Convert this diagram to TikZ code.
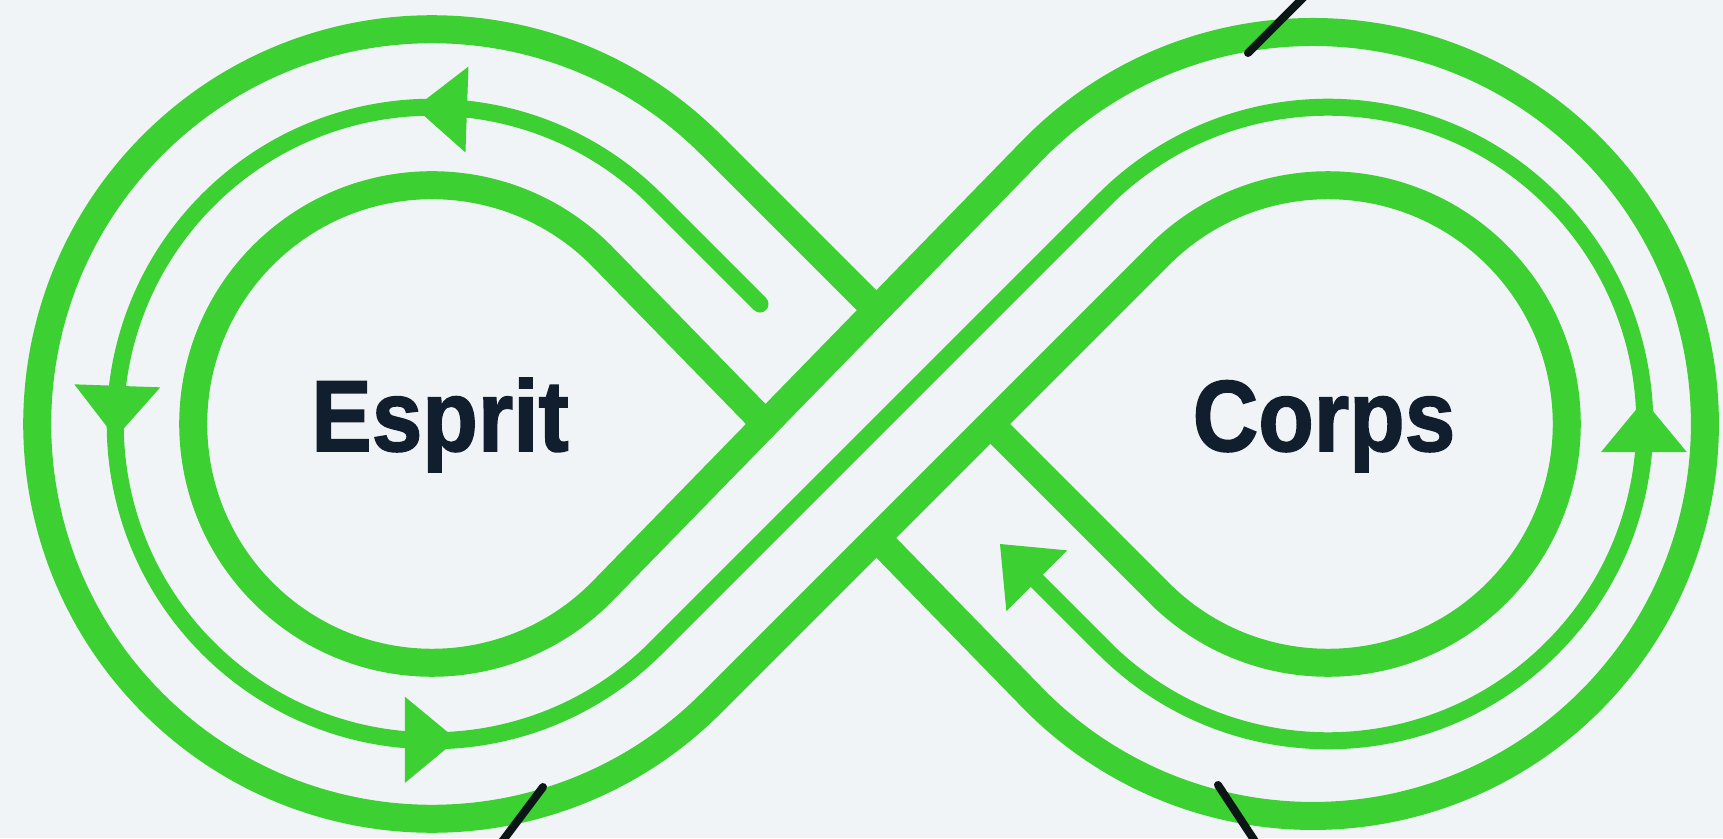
\documentclass[tikz,border=0pt]{standalone}
\usepackage{graphicx}
\usepackage{fontspec}
\setmainfont{Liberation Sans}
\newfontfamily\lblfont[BoldFeatures={FakeBold=1.6}]{Liberation Sans}
\definecolor{grn}{RGB}{60,208,50}
\definecolor{bg}{RGB}{241,244,246}
\definecolor{ink}{RGB}{16,30,46}
\definecolor{tickc}{RGB}{12,22,22}
\newcommand\arrowtip[2]{\fill[tipfill,shift={#1},rotate=#2] (0,0) -- (-52,43) -- (-52,-43) -- cycle;}
\newcommand\narrowtext[1]{\scalebox{0.9}[1]{#1}}
\begin{document}
\begin{tikzpicture}[x=1pt,y=1pt,
  band/.style={draw=grn,line width=28pt},
  lane/.style={draw=grn,line width=17pt,line cap=round},
  tipfill/.style={fill=grn},
  tickmark/.style={draw=tickc,line width=8pt,line cap=round},
  lbl/.style={font=\lblfont\fontsize{101}{110}\selectfont\bfseries,text=ink,anchor=base,inner sep=0pt}]
\fill[bg] (-880,-414) rectangle (843,424);
\useasboundingbox (-880,-414) rectangle (843,424);
\clip (-880,-414) rectangle (843,424);

% key points
\coordinate (M) at (0,0);
\coordinate (tdL) at (-114.5,0);
\coordinate (tdR) at (110.31,0);
\coordinate (tA) at (-3.5,113.8);
\coordinate (tB) at (-3.5,-113.8);
\coordinate (oL1) at (-168.85,279.15);
\coordinate (iL1) at (-277.1,166.8);
\coordinate (mL1) at (-224,224);
\coordinate (oR1) at (152.4,273.8);
\coordinate (iR1) at (279.16,168.84);
\coordinate (mR1) at (224,224);

% band A: outer-left / inner-right
\draw[band] (tA) -- (oL1) arc[start angle=45,end angle=315,radius=394.78]
  -- (iR1) arc[start angle=135,end angle=-135,radius=238.78] -- (tdR);
% band B: inner-left / outer-right
\draw[band] (tdL) -- (iL1) arc[start angle=44.3,end angle=315.7,radius=238.8]
  -- (oR1) arc[start angle=135.7,end angle=-135.7,radius=392] -- (tB);
% middle lane
\coordinate (mEnd) at (-120,120);
\coordinate (mTip) at (120,-120);
\draw[lane] (mEnd) -- (mL1) arc[start angle=45,end angle=315,radius=316.78]
  -- (mR1) arc[start angle=135,end angle=-135,radius=316.78] -- (145,-145);

% arrowheads
\arrowtip{(-465,316.3)}{178}
\arrowtip{(-764.5,-13.8)}{268}
\arrowtip{(-423,-315.8)}{0}
\arrowtip{(763.9,23.8)}{90}
\arrowtip{(mTip)}{135}

% tick marks
\coordinate (k1a) at (368,371);   \coordinate (k1b) at (440,443);
\coordinate (k2a) at (-337,-363); \coordinate (k2b) at (-391,-435);
\coordinate (k3a) at (338,-361);  \coordinate (k3b) at (388,-437);
\draw[tickmark] (k1a) -- (k1b);
\draw[tickmark] (k2a) -- (k2b);
\draw[tickmark] (k3a) -- (k3b);

% labels
\node[lbl] (esprit) at (-440,-27) {\narrowtext{Esprit}};
\node[lbl] (corps) at (444,-27) {\narrowtext{Corps}};
\end{tikzpicture}
\end{document}
